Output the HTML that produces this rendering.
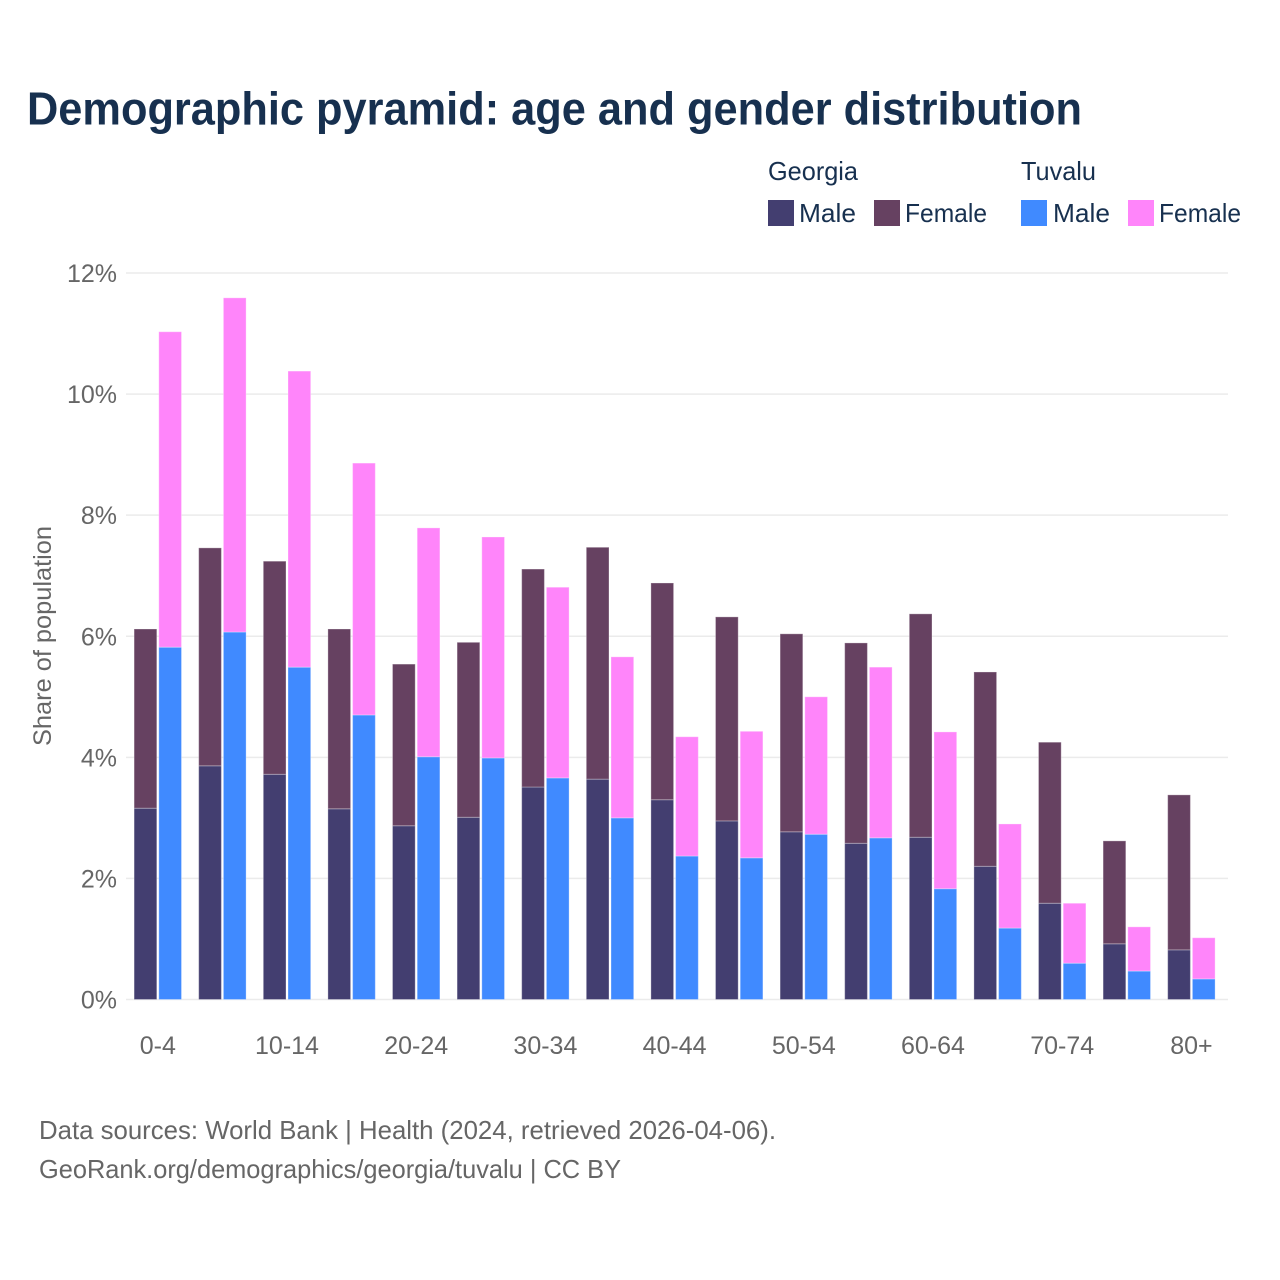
<!DOCTYPE html>
<html lang="en">
<head>
<meta charset="utf-8">
<title>Demographic pyramid: age and gender distribution</title>
<style>
html,body{margin:0;padding:0;background:#fff;}
svg{display:block;font-family:"Liberation Sans",sans-serif;}
</style>
</head>
<body>
<svg id="chart" width="1280" height="1280" viewBox="0 0 1280 1280" xmlns="http://www.w3.org/2000/svg">
  <rect width="1280" height="1280" fill="#ffffff"/>
  <text x="27" y="124.5" font-size="46" font-weight="700" fill="#17304f" textLength="1055" lengthAdjust="spacingAndGlyphs">Demographic pyramid: age and gender distribution</text>

  <g font-size="26" fill="#17304f">
    <text x="768" y="180" textLength="90" lengthAdjust="spacingAndGlyphs">Georgia</text>
    <text x="1021" y="180" textLength="75" lengthAdjust="spacingAndGlyphs">Tuvalu</text>
    <rect x="768" y="200" width="26" height="26" fill="#433e70"/>
    <text x="799" y="222" textLength="57" lengthAdjust="spacingAndGlyphs">Male</text>
    <rect x="874" y="200" width="26" height="26" fill="#664161"/>
    <text x="905" y="222" textLength="82" lengthAdjust="spacingAndGlyphs">Female</text>
    <rect x="1021" y="200" width="26" height="26" fill="#408aff"/>
    <text x="1053" y="222" textLength="57" lengthAdjust="spacingAndGlyphs">Male</text>
    <rect x="1128" y="200" width="26" height="26" fill="#ff85fa"/>
    <text x="1159" y="222" textLength="82" lengthAdjust="spacingAndGlyphs">Female</text>
  </g>

  <g id="grid"></g>
  <g id="yticks" font-size="25" fill="#666666" text-anchor="end"></g>
  <g id="bars"></g>
  <g id="xticks" font-size="25" fill="#666666" text-anchor="middle"></g>

  <text transform="translate(51,746) rotate(-90)" font-size="25" fill="#666666" textLength="220" lengthAdjust="spacingAndGlyphs">Share of population</text>

  <text x="39" y="1139" font-size="26" fill="#666666" textLength="737" lengthAdjust="spacingAndGlyphs">Data sources: World Bank | Health (2024, retrieved 2026-04-06).</text>
  <text x="39" y="1178" font-size="26" fill="#666666" textLength="582" lengthAdjust="spacingAndGlyphs">GeoRank.org/demographics/georgia/tuvalu | CC BY</text>
</svg>
<script>
var ageGroups = ["0-4","5-9","10-14","15-19","20-24","25-29","30-34","35-39","40-44","45-49","50-54","55-59","60-64","65-69","70-74","75-79","80+"];
var georgiaMale = [3.16,3.86,3.72,3.15,2.87,3.01,3.51,3.64,3.30,2.95,2.77,2.58,2.68,2.20,1.59,0.92,0.82];
var georgiaFemale = [2.96,3.60,3.52,2.97,2.67,2.89,3.60,3.83,3.58,3.37,3.27,3.31,3.69,3.21,2.66,1.70,2.56];
var tuvaluMale = [5.82,6.07,5.49,4.70,4.01,3.99,3.66,3.00,2.37,2.34,2.73,2.67,1.83,1.18,0.60,0.47,0.34];
var tuvaluFemale = [5.21,5.52,4.89,4.16,3.78,3.65,3.15,2.66,1.97,2.09,2.27,2.82,2.59,1.72,0.99,0.73,0.68];
var yTickValues = [0,2,4,6,8,10,12];
var xTickEvery = 2;

var NS = "http://www.w3.org/2000/svg";
function yScale(v){ return 999.5 - v * 60.54; }
function xCenter(i){ return 157.8 + i * 64.6; }
var barWidth = 22.7;

var grid = document.getElementById("grid");
var yticks = document.getElementById("yticks");
yTickValues.forEach(function(t){
  var line = document.createElementNS(NS,"line");
  
  
  line.setAttribute("x1",126);
  line.setAttribute("x2",1228);
  line.setAttribute("y1",yScale(t));
  line.setAttribute("y2",yScale(t));
  line.setAttribute("stroke","#ebebeb");
  line.setAttribute("stroke-width",1.5);
  grid.appendChild(line);
  var label = document.createElementNS(NS,"text");
  
  
  label.setAttribute("x",117);
  label.setAttribute("y",yScale(t)+9);
  label.textContent = t + "%";
  yticks.appendChild(label);
});

var barsGroup = document.getElementById("bars");
function drawSegment(x, base, value, color, name){
  var r = document.createElementNS(NS,"rect");
  
  
  r.setAttribute("x",x);
  r.setAttribute("y",yScale(base+value));
  r.setAttribute("width",barWidth);
  r.setAttribute("height",yScale(base)-yScale(base+value));
  r.setAttribute("fill",color);
  r.setAttribute("stroke","#ffffff");
  r.setAttribute("stroke-opacity","0.3");
  r.setAttribute("stroke-width","1");
  barsGroup.appendChild(r);
}
ageGroups.forEach(function(g,i){
  var c = xCenter(i);
  drawSegment(c-23.7, 0, georgiaMale[i], "#433e70", "bar-georgia-male");
  drawSegment(c-23.7, georgiaMale[i], georgiaFemale[i], "#664161", "bar-georgia-female");
  drawSegment(c+1, 0, tuvaluMale[i], "#408aff", "bar-tuvalu-male");
  drawSegment(c+1, tuvaluMale[i], tuvaluFemale[i], "#ff85fa", "bar-tuvalu-female");
});

var xticks = document.getElementById("xticks");
ageGroups.forEach(function(g,i){
  if (i % xTickEvery !== 0) return;
  var label = document.createElementNS(NS,"text");
  
  
  label.setAttribute("x",xCenter(i));
  label.setAttribute("y",1054);
  label.textContent = g;
  xticks.appendChild(label);
});
</script>
</body>
</html>
